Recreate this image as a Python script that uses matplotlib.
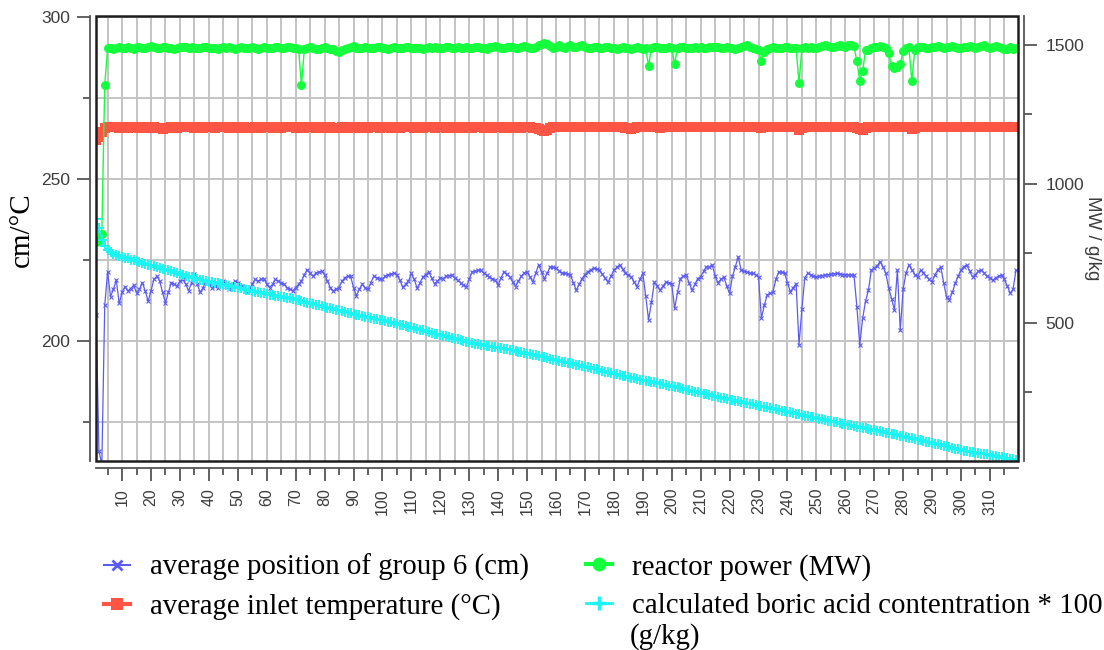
import matplotlib
matplotlib.use('Agg')
import matplotlib.pyplot as plt
from matplotlib.lines import Line2D
from matplotlib.patches import Rectangle
import numpy as np

# days of the cycle
days = np.arange(1, 320)

# average position of group 6 (cm), left axis
rod_position = [
    208.0, 166.0, 162.0, 211.0, 221.4, 213.7, 216.0, 218.8, 211.6, 215.0,
    216.8, 215.5, 216.2, 217.2, 214.9, 216.0, 218.0, 215.5, 212.3, 215.5,
    219.0, 220.0, 218.5, 215.0, 211.8, 215.0, 218.0, 217.5, 217.0, 218.5,
    219.0, 217.5, 215.5, 218.0, 220.6, 217.5, 215.0, 216.5, 218.5, 217.8,
    216.5, 217.0, 216.5, 217.5, 218.5, 217.0, 216.0, 217.3, 218.5, 218.0,
    217.0, 216.5, 215.5, 215.5, 217.5, 219.0, 218.5, 219.0, 219.3, 217.5,
    216.5, 217.5, 219.0, 218.5, 218.0, 217.5, 216.5, 216.0, 215.5, 216.5,
    217.5, 218.5, 220.5, 222.0, 221.0, 220.0, 221.0, 221.3, 221.5, 220.5,
    218.5, 216.5, 215.5, 216.0, 216.5, 218.5, 219.5, 220.0, 220.0, 216.5,
    214.0, 216.0, 217.5, 216.5, 216.0, 218.0, 220.0, 219.5, 219.3, 219.0,
    220.0, 220.5, 220.7, 221.0, 220.5, 218.8, 216.6, 217.5, 218.5, 220.9,
    219.0, 216.3, 218.0, 219.8, 220.5, 221.4, 219.5, 217.6, 218.5, 219.5,
    219.3, 220.0, 220.2, 220.4, 219.5, 218.8, 218.0, 217.2, 216.8, 219.0,
    221.4, 221.6, 221.8, 221.9, 221.0, 220.4, 219.8, 219.2, 218.8, 217.3,
    219.5, 221.4, 220.6, 219.8, 218.3, 216.8, 218.5, 220.0, 221.0, 221.4,
    219.8, 218.2, 221.0, 223.5, 221.2, 219.3, 221.0, 222.9, 222.7, 222.5,
    221.7, 221.0, 220.9, 220.6, 220.4, 218.0, 215.7, 217.5, 219.3, 220.5,
    221.4, 222.0, 222.5, 222.2, 221.9, 220.6, 219.4, 218.2, 220.0, 221.9,
    222.7, 223.5, 222.2, 220.9, 220.4, 219.8, 218.3, 216.8, 219.0, 220.9,
    214.0, 206.5, 212.0, 218.2, 217.0, 215.7, 217.0, 218.2, 218.0, 217.7,
    210.1, 215.0, 219.3, 220.0, 220.4, 218.0, 215.7, 217.5, 219.3, 219.8,
    221.5, 222.9, 222.9, 223.5, 220.0, 218.0, 219.0, 219.8, 217.0, 214.7,
    220.0, 223.0, 226.0, 221.9, 221.5, 221.3, 221.0, 220.9, 220.5, 219.8,
    207.0, 211.0, 214.2, 214.7, 215.2, 219.0, 221.4, 221.2, 220.9, 218.0,
    215.2, 216.5, 217.7, 198.8, 210.0, 219.5, 220.9, 220.5, 220.0, 219.8,
    220.0, 220.2, 220.4, 220.5, 220.6, 220.8, 220.9, 220.7, 220.5, 220.4,
    220.4, 220.4, 220.4, 210.6, 198.8, 207.0, 212.3, 215.7, 221.9, 222.5,
    223.2, 224.5, 223.0, 220.9, 216.5, 213.0, 209.6, 221.9, 203.4, 216.0,
    221.0, 223.5, 222.0, 220.5, 219.8, 221.9, 221.0, 220.0, 219.0, 218.2,
    220.5, 222.0, 222.9, 218.0, 213.5, 212.7, 215.0, 217.8, 220.0, 222.0,
    223.0, 223.5, 221.5, 219.8, 220.5, 221.5, 221.9, 221.0, 220.0, 219.5,
    218.8, 219.5, 220.0, 220.4, 219.0, 217.0, 214.7, 216.0, 221.9,
]

# average inlet temperature (degC), left axis
inlet_temp = [
    262.0, 263.0, 264.5, 265.6, 265.9, 265.9, 266.0, 265.9, 265.8, 265.9,
    265.9, 265.8, 265.9, 266.0, 265.9, 265.8, 265.9, 265.9, 265.8, 265.9,
    265.9, 265.8, 265.7, 265.5, 265.6, 265.8, 265.9, 265.9, 265.8, 265.9,
    265.9, 265.9, 266.0, 265.9, 265.8, 265.9, 265.9, 265.8, 265.9, 265.9,
    265.9, 265.8, 265.9, 265.9, 266.0, 265.9, 265.8, 265.9, 265.9, 265.8,
    265.9, 265.9, 265.8, 265.6, 265.7, 265.9, 265.9, 265.8, 265.9, 265.9,
    265.9, 265.8, 265.9, 265.9, 265.8, 265.9, 265.9, 266.0, 265.9, 265.8,
    265.9, 265.9, 265.8, 265.9, 265.9, 265.9, 265.8, 265.9, 265.9, 265.8,
    265.9, 265.9, 265.8, 265.7, 265.8, 265.9, 265.9, 265.8, 265.9, 265.9,
    265.9, 265.8, 265.9, 265.9, 265.8, 265.9, 265.9, 265.9, 265.8, 265.9,
    265.9, 265.9, 265.8, 265.9, 265.9, 265.8, 265.9, 265.9, 266.0, 265.9,
    265.8, 265.9, 265.9, 265.8, 265.9, 265.9, 265.9, 265.8, 265.9, 265.9,
    265.9, 265.8, 265.9, 265.9, 265.8, 265.9, 265.9, 265.8, 265.9, 265.9,
    265.8, 265.9, 265.9, 265.9, 265.8, 265.9, 265.9, 265.8, 265.9, 265.9,
    265.9, 265.8, 265.9, 265.9, 265.8, 265.9, 265.9, 265.8, 265.9, 265.9,
    265.9, 265.8, 265.6, 265.3, 265.0, 264.9, 265.1, 265.6, 265.9, 266.0,
    266.1, 266.0, 266.1, 266.2, 266.1, 266.0, 266.1, 266.1, 266.2, 266.1,
    266.0, 266.1, 266.0, 265.9, 266.0, 266.1, 266.0, 265.9, 266.0, 266.0,
    266.1, 266.0, 265.9, 265.8, 265.7, 265.5, 265.8, 266.0, 266.0, 266.1,
    266.0, 265.9, 266.0, 266.1, 266.0, 265.6, 265.9, 266.0, 266.1, 266.0,
    266.0, 266.1, 266.0, 265.9, 266.0, 266.1, 266.0, 266.0, 266.1, 266.0,
    265.9, 266.0, 266.1, 266.0, 266.0, 265.9, 266.0, 266.1, 266.0, 266.0,
    266.1, 266.0, 265.9, 266.0, 266.1, 266.0, 266.0, 266.1, 266.0, 265.9,
    265.8, 266.0, 266.1, 266.0, 266.0, 265.9, 266.0, 266.1, 266.0, 266.0,
    266.0, 266.1, 266.0, 265.1, 265.6, 266.0, 266.1, 266.0, 265.9, 266.0,
    266.1, 266.0, 266.0, 265.9, 266.0, 266.1, 266.0, 266.0, 266.1, 266.0,
    265.9, 266.0, 266.0, 265.8, 265.4, 265.2, 265.6, 265.9, 266.0, 266.1,
    266.0, 266.0, 266.1, 266.0, 265.9, 266.0, 266.0, 266.1, 266.0, 265.9,
    266.0, 266.0, 265.4, 265.8, 266.0, 266.1, 266.0, 265.9, 266.0, 266.0,
    266.1, 266.0, 265.9, 266.0, 266.1, 266.0, 266.0, 265.9, 266.0, 266.1,
    266.0, 266.0, 266.1, 266.0, 265.9, 266.0, 266.0, 266.1, 266.0, 266.0,
    265.9, 266.0, 266.1, 266.0, 266.0, 265.9, 266.0, 266.0, 266.0,
]

# reactor power (MW), right axis
reactor_power = [
    790, 800, 820, 1356, 1488, 1490, 1486, 1489, 1492, 1490,
    1488, 1491, 1490, 1487, 1492, 1494, 1490, 1489, 1491, 1495,
    1492, 1490, 1488, 1491, 1493, 1490, 1489, 1487, 1490, 1492,
    1494, 1491, 1490, 1492, 1490, 1488, 1490, 1493, 1491, 1489,
    1490, 1488, 1486, 1489, 1491, 1490, 1492, 1489, 1487, 1490,
    1491, 1489, 1488, 1490, 1492, 1489, 1487, 1489, 1491, 1490,
    1488, 1490, 1493, 1491, 1489, 1490, 1492, 1494, 1490, 1488,
    1486, 1356, 1484, 1490, 1492, 1489, 1487, 1485, 1488, 1491,
    1490, 1487, 1484, 1478, 1474, 1481, 1486, 1489, 1492, 1495,
    1490, 1488, 1490, 1491, 1489, 1490, 1488, 1491, 1493, 1490,
    1489, 1487, 1490, 1492, 1490, 1488, 1489, 1491, 1494, 1490,
    1488, 1490, 1489, 1487, 1490, 1491, 1489, 1492, 1490, 1488,
    1490, 1492, 1493, 1490, 1488, 1491, 1490, 1489, 1492, 1490,
    1488, 1491, 1493, 1490, 1489, 1487, 1491, 1493, 1496, 1492,
    1490, 1488, 1491, 1494, 1492, 1490, 1488, 1493, 1497, 1493,
    1490, 1488, 1492, 1498, 1504, 1508, 1502, 1495, 1490, 1494,
    1499, 1493, 1490, 1497, 1500, 1494, 1491, 1496, 1499, 1493,
    1490, 1488, 1491, 1493, 1490, 1489, 1491, 1494, 1490, 1488,
    1486, 1489, 1491, 1490, 1488, 1486, 1489, 1492, 1490, 1487,
    1489, 1424, 1490, 1493, 1491, 1489, 1488, 1490, 1491, 1488,
    1432, 1489, 1491, 1493, 1490, 1488, 1490, 1492, 1489, 1491,
    1490, 1488, 1491, 1493, 1494, 1491, 1489, 1490, 1492, 1490,
    1489, 1487, 1490, 1492, 1495, 1498, 1493, 1490, 1486, 1480,
    1442, 1476, 1485, 1489, 1491, 1490, 1488, 1490, 1493, 1491,
    1489, 1490, 1488, 1363, 1489, 1491, 1490, 1492, 1489, 1490,
    1492, 1496, 1498, 1495, 1491, 1494, 1497, 1500, 1496, 1494,
    1498, 1501, 1495, 1442, 1370, 1406, 1480, 1482, 1488, 1492,
    1494, 1496, 1492, 1488, 1470, 1425, 1418, 1420, 1430, 1478,
    1490, 1492, 1370, 1480, 1492, 1494, 1491, 1489, 1490, 1492,
    1494, 1496, 1493, 1490, 1491, 1493, 1495, 1492, 1490, 1488,
    1491, 1494, 1496, 1492, 1489, 1491, 1495, 1498, 1494, 1490,
    1492, 1495, 1493, 1488, 1484, 1487, 1491, 1486, 1488,
]

# calculated boric acid concentration * 100 (g/kg), right axis
boric_acid = [
    875, 842, 800, 776, 762, 754, 749, 745, 741, 738,
    735, 732, 728, 725, 722, 719, 716, 713, 710, 707,
    704, 701, 698, 695, 692, 689, 686, 682, 679, 676,
    673, 670, 667, 664, 661, 659, 656, 654, 651, 649,
    647, 644, 642, 640, 637, 635, 633, 630, 628, 626,
    624, 621, 619, 617, 615, 612, 610, 608, 606, 604,
    602, 600, 598, 596, 594, 592, 590, 588, 586, 584,
    581, 579, 576, 573, 571, 568, 565, 563, 560, 557,
    555, 552, 550, 547, 545, 542, 540, 537, 535, 532,
    530, 528, 525, 523, 521, 519, 516, 514, 512, 510,
    507, 504, 502, 499, 497, 494, 491, 489, 486, 484,
    481, 478, 476, 473, 470, 468, 465, 462, 460, 457,
    454, 452, 449, 446, 444, 441, 438, 436, 433, 430,
    428, 426, 424, 422, 420, 418, 416, 414, 413, 411,
    409, 407, 405, 403, 401, 399, 397, 395, 392, 390,
    388, 385, 383, 380, 378, 376, 373, 371, 368, 366,
    364, 361, 359, 357, 355, 352, 350, 348, 345, 343,
    340, 338, 335, 333, 330, 328, 325, 322, 320, 317,
    315, 313, 310, 308, 306, 303, 301, 299, 296, 294,
    292, 290, 288, 286, 283, 281, 279, 277, 275, 273,
    270, 268, 265, 263, 260, 258, 255, 252, 250, 247,
    245, 243, 240, 238, 236, 234, 231, 229, 227, 224,
    222, 220, 218, 216, 213, 211, 209, 207, 204, 202,
    200, 198, 196, 193, 191, 189, 187, 185, 182, 180,
    178, 176, 174, 171, 169, 167, 165, 163, 160, 158,
    156, 154, 152, 149, 147, 145, 143, 141, 138, 136,
    134, 132, 130, 127, 125, 123, 121, 119, 116, 114,
    112, 110, 108, 105, 103, 101, 99, 97, 94, 92,
    90, 87, 85, 83, 80, 78, 76, 73, 71, 68,
    66, 63, 61, 58, 56, 53, 51, 48, 46, 43,
    41, 39, 37, 35, 33, 31, 30, 28, 27, 25,
    23, 21, 19, 17, 15, 13, 11, 9, 7,
]

labels = ['average position of group 6 (cm)', 'average inlet temperature (°C)',
          'reactor power (MW)', 'calculated boric acid contentration * 100']

BLUE = '#5b5bf2'
RED = '#ff5545'
GREEN = '#14ff3c'
CYAN = '#1cf4f4'
AXC = '#555555'
TXT = '#3c3c3c'
SERIF = 'Liberation Serif'
SANS = 'Liberation Sans'

fig = plt.figure(figsize=(11.04, 6.5), dpi=100)
ax = fig.add_axes([0.0870, 0.2908, 0.8351, 0.6846])
ax2 = ax.twinx()

# spines first: moving a spine resets the ticks
for s in ['top', 'right']:
    ax.spines[s].set_visible(False)
for s in ['top', 'left', 'bottom']:
    ax2.spines[s].set_visible(False)
ax.spines['left'].set_position(('outward', 4.3))
ax.spines['bottom'].set_position(('outward', 5))
ax2.spines['right'].set_position(('outward', 4.3))
for sp in [ax.spines['left'], ax.spines['bottom'], ax2.spines['right']]:
    sp.set_color(AXC)
    sp.set_linewidth(1.3)

ax.plot(days, rod_position, color=BLUE, lw=0.9, marker='x', ms=3, mew=0.8, zorder=3)
ax.plot(days, inlet_temp, color=RED, lw=4, marker='s', ms=6.5, mew=0, zorder=3)
ax2.plot(days, reactor_power, color=GREEN, lw=1, marker='o', ms=6.5, mew=0)
ax2.plot(days, boric_acid, color=CYAN, lw=1, marker='+', ms=7, mew=1.4)

ax.set_xlim(1, 319.7)
ax.set_ylim(163, 300.3)
ax2.set_ylim(3.6, 1604)

ax.set_xticks(np.arange(10, 320, 10))
ax.set_xticks(np.arange(5, 320, 10), minor=True)
ax.set_xticklabels([str(v) for v in range(10, 320, 10)], rotation=90,
                   family=SANS, fontsize=11.5, color=TXT)
ax.set_yticks([200, 250, 300])
ax.set_yticks([175, 225, 275], minor=True)
ax.set_yticklabels(['200', '250', '300'], family=SANS, fontsize=12.5, color=TXT)
ax2.set_yticks([500, 1000, 1500])
ax2.set_yticks([250, 750, 1250], minor=True)
ax2.set_yticklabels(['500', '1000', '1500'], family=SANS, fontsize=12.5, color=TXT)

ax.grid(which='both', color='#c4c4c4', lw=1.4)
ax.set_axisbelow(True)

ax.tick_params(which='major', length=9.4, width=1.3, color=AXC, pad=5)
ax.tick_params(which='minor', length=5, width=1.3, color=AXC)
ax2.tick_params(which='major', length=9.4, width=1.3, color=AXC, pad=6)
ax2.tick_params(which='minor', length=6, width=1.3, color=AXC)

# plot frame
ax2.add_artist(Rectangle((0, 0), 1, 1, transform=ax2.transAxes, fill=False,
                         ec='#1e1e1e', lw=1.8, clip_on=False, zorder=10))

fig.text(22 / 1104, 1 - 230 / 650, 'cm/°C', rotation=90, family=SERIF,
         fontsize=21, ha='center', va='center')
fig.text(1092 / 1104, 1 - 238 / 650, 'MW / g/kg', rotation=270, family=SANS,
         fontsize=13.5, color=TXT, ha='center', va='center')

# legend
h_blue = Line2D([], [], color=BLUE, lw=1.5, marker='x', ms=7, mew=2)
h_red = Line2D([], [], color=RED, lw=3, marker='s', ms=9, mew=0)
h_green = Line2D([], [], color=GREEN, lw=3, marker='o', ms=10, mew=0)
h_cyan = Line2D([], [], color=CYAN, lw=2, marker='+', ms=10, mew=2.5)
prop = {'family': SERIF, 'size': 20.8}
kw = dict(loc='upper left', frameon=False, prop=prop, handlelength=0.9,
          handletextpad=0.7, labelspacing=0.42, borderaxespad=0, borderpad=0)
fig.legend([h_blue, h_red], labels[:2], bbox_to_anchor=(104 / 1104, 1 - 554 / 650), **kw)
fig.legend([h_green, h_cyan], labels[2:], bbox_to_anchor=(586 / 1104, 1 - 554 / 650), **kw)
fig.text(630 / 1104, 1 - 637 / 650, '(g/kg)', family=SERIF, fontsize=20.8,
         ha='left', va='center')

fig.savefig('out.png', dpi=100)
